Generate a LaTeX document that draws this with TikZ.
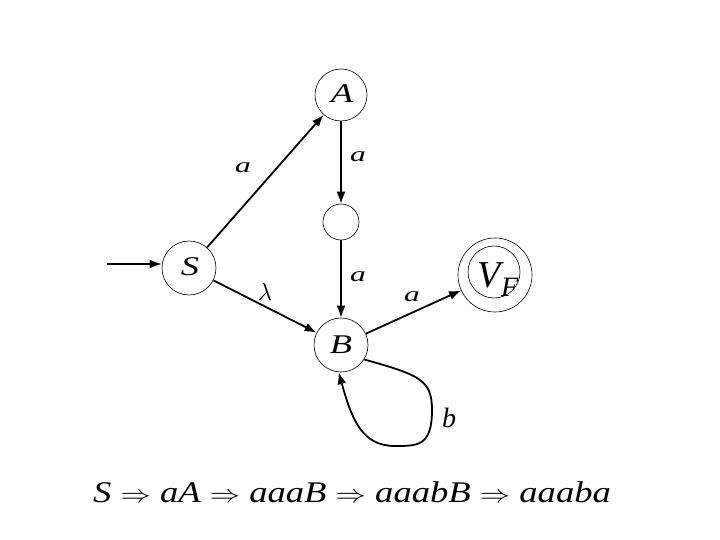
\documentclass[tikz,border=0pt]{standalone}
\usepackage{fontspec}
\setmainfont{Liberation Serif}
\usetikzlibrary{arrows.meta}
\tikzset{
  st/.style={draw, circle, line width=0.6pt, inner sep=0pt},
  nlbl/.style={font=\fontsize{27}{27}\selectfont\itshape, xscale=1.35, transform shape},
  lbl/.style={font=\fontsize{21}{21}\selectfont\itshape, xscale=1.5, transform shape},
  edge/.style={line width=1.8pt, -{Latex[length=12pt,width=9pt]}},
}
\begin{document}
\begin{tikzpicture}[x=1pt,y=-1pt]
\useasboundingbox[fill=white] (0,0) rectangle (720,540);
\node[st, minimum size=52pt] (A) at (341,95) {};
\node[nlbl] at (342,94) {A};
\node[st, minimum size=36pt] (M) at (341,222) {};
\node[st, minimum size=54pt] (S) at (189,268) {};
\node[nlbl] at (190,267) {S};
\node[st, minimum size=54pt] (B) at (341,345) {};
\node[nlbl] at (341,345) {B};
\node[st, minimum size=74pt] (V) at (495,275) {};
\node[st, minimum size=52pt] (Vi) at (494,272) {};
\node[font=\fontsize{38}{38}\selectfont\itshape, inner sep=0pt] at (498,280) {V\raisebox{-9pt}{\fontsize{28}{28}\selectfont F}};
\coordinate (start) at (107,264);
\draw[edge] (start) -- (start -| S.west);
\draw[edge] (S) -- (A);
\draw[edge] (A) -- (M);
\draw[edge] (M) -- (B);
\draw[edge] (S) -- (B);
\draw[edge] (B) -- (V);
\draw[edge] (B.-32) .. controls (420,375) and (432,380) .. (432,410)
  .. controls (432,446) and (418,446) .. (395,446)
  .. controls (362,446) and (352,420) .. (B.-95);
\node[lbl] at (243,168) {a};
\node[lbl] at (358,157) {a};
\node[font=\fontsize{26}{26}\selectfont] at (265,292) {$\lambda$};
\node[lbl] at (358,277) {a};
\node[lbl] at (412,297) {a};
\node[font=\fontsize{28}{28}\selectfont\itshape] at (449,418) {b};
\node[font=\fontsize{30}{30}\selectfont\itshape, xscale=1.22, transform shape] at (352,492) {S $\Rightarrow$ aA $\Rightarrow$ aaaB $\Rightarrow$ aaabB $\Rightarrow$ aaaba};
\end{tikzpicture}
\end{document}
